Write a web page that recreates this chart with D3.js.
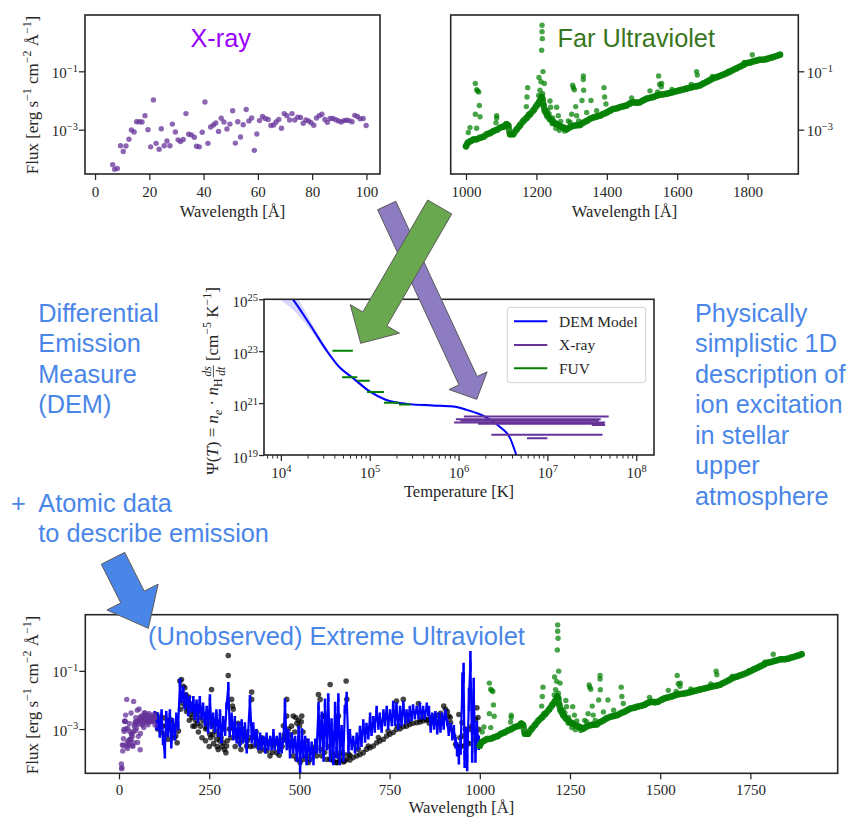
<!DOCTYPE html>
<html><head><meta charset="utf-8">
<script src="https://cdnjs.cloudflare.com/ajax/libs/d3/7.8.5/d3.min.js"></script>
<style>body{margin:0;background:#fff}svg{display:block}text{white-space:pre}</style>
</head><body><svg id="fig" width="850" height="822"></svg>
<script>
// ---------------- DATA (flux values stored as log10 of erg s^-1 cm^-2 Å^-1) ----------------
const xrayWave = [6.5,7.2,8.2,9.4,10.4,11.4,12.5,13.4,14.4,15.3,16.3,17.3,18.4,19.5,20.5,21.5,22.5,23.6,24.4,25.5,26.5,27.6,28.5,29.6,30.6,31.5,32.5,33.5,34.5,35.5,36.6,37.4,38.4,39.5,40.5,41.6,42.6,43.6,44.5,45.5,46.5,47.5,48.6,49.7,50.7,51.7,52.6,53.6,54.6,55.7,56.7,57.7,58.7,59.6,60.6,61.7,62.7,63.8,64.8,65.8,66.7,67.7,68.7,69.7,70.7,71.7,72.6,73.6,74.7,75.7,76.7,77.7,78.7,79.6,80.6,81.6,82.6,83.6,84.7,85.6,86.6,87.6,88.7,89.7,90.7,91.7,92.6,93.6,94.7,95.7,96.7,97.7,98.8,99.9];
const xrayLogFlux = [-4.20,-4.36,-4.33,-3.55,-3.75,-3.56,-3.33,-3.01,-3.08,-2.73,-2.73,-2.74,-2.52,-3.00,-3.59,-1.98,-3.47,-3.67,-2.97,-3.55,-3.39,-3.55,-2.81,-3.08,-3.35,-3.41,-3.34,-2.45,-3.16,-3.18,-3.26,-3.57,-3.59,-3.09,-2.05,-3.47,-2.91,-2.84,-2.77,-3.06,-2.61,-2.74,-2.98,-2.81,-2.35,-3.46,-2.73,-3.25,-2.83,-2.31,-2.70,-2.60,-3.71,-3.15,-2.69,-2.55,-2.62,-2.65,-2.86,-2.84,-2.74,-2.65,-2.95,-2.45,-2.52,-2.67,-2.45,-2.67,-2.57,-2.58,-2.78,-2.67,-2.70,-2.76,-2.85,-2.60,-2.52,-2.47,-2.65,-2.75,-2.62,-2.62,-2.66,-2.70,-2.74,-2.69,-2.68,-2.69,-2.73,-2.51,-2.55,-2.63,-2.62,-2.86];

// FUV continuum [wavelength, log10 flux]
const fuvContinuum = [[1000,-3.57],[1005,-3.45],[1012,-3.40],[1021,-3.34],[1030,-3.33],[1040,-3.28],[1050,-3.24],[1059,-3.16],[1068,-3.12],[1078,-3.05],[1088,-3.00],[1097,-2.93],[1106,-2.90],[1115,-2.81],[1120,-2.86],[1125,-3.16],[1134,-3.16],[1144,-2.99],[1153,-2.86],[1163,-2.70],[1172,-2.60],[1182,-2.47],[1192,-2.33],[1201,-2.17],[1208,-2.05],[1215,-1.88],[1220,-2.15],[1224,-2.35],[1231,-2.52],[1239,-2.64],[1248,-2.74],[1258,-2.81],[1267,-2.88],[1276,-2.93],[1286,-2.99],[1295,-2.92],[1305,-2.87],[1314,-2.85],[1324,-2.84],[1333,-2.76],[1343,-2.70],[1352,-2.63],[1362,-2.58],[1371,-2.55],[1381,-2.52],[1390,-2.46],[1400,-2.41],[1409,-2.35],[1418,-2.29],[1428,-2.27],[1437,-2.23],[1447,-2.20],[1456,-2.17],[1466,-2.10],[1475,-2.06],[1485,-2.08],[1494,-2.06],[1504,-1.99],[1513,-1.94],[1522,-1.91],[1532,-1.88],[1541,-1.84],[1551,-1.80],[1560,-1.79],[1570,-1.77],[1580,-1.74],[1589,-1.71],[1598,-1.68],[1608,-1.65],[1618,-1.62],[1627,-1.59],[1637,-1.56],[1646,-1.53],[1656,-1.51],[1665,-1.48],[1674,-1.42],[1684,-1.36],[1693,-1.30],[1702,-1.24],[1712,-1.20],[1721,-1.16],[1730,-1.12],[1740,-1.07],[1750,-1.01],[1759,-0.95],[1768,-0.90],[1778,-0.84],[1788,-0.78],[1797,-0.72],[1806,-0.70],[1816,-0.66],[1826,-0.63],[1835,-0.60],[1845,-0.60],[1854,-0.58],[1864,-0.54],[1873,-0.51],[1883,-0.47],[1892,-0.43]];
// FUV emission-line / scattered points [wavelength, log10 flux]
const fuvLines = [[1026.5,-1.42],[1030.3,-1.63],[1036.0,-1.71],[1033.1,-1.67],[1037.9,-2.17],[1026.5,-2.47],[1039.8,-2.56],[1030.3,-2.95],[1087.1,-2.52],[1087.1,-2.60],[1085.2,-2.76],[1175.1,-1.56],[1173.3,-1.88],[1171.4,-2.21],[1177.0,-2.47],[1215.9,0.58],[1215.9,0.36],[1216.8,0.12],[1214.9,-0.28],[1218.7,-1.01],[1207.3,-1.21],[1213.0,-1.36],[1222.5,-1.42],[1210.2,-1.65],[1217.7,-1.77],[1206.4,-1.83],[1219.6,-1.94],[1238.6,-2.02],[1240.5,-2.23],[1257.5,-2.23],[1262.2,-2.52],[1303.0,-1.48],[1304.9,-1.56],[1307.7,-1.63],[1311.5,-2.21],[1300.1,-2.47],[1333.3,-1.16],[1333.3,-1.28],[1334.2,-1.65],[1329.5,-2.00],[1355.0,-2.00],[1392.0,-1.56],[1393.8,-1.88],[1397.6,-2.12],[1547.2,-1.16],[1550.1,-1.44],[1554.8,-1.53],[1544.4,-1.71],[1655.1,-1.01],[1657.0,-1.13],[1813.3,-0.43],[1231.0,-2.35],[1246.2,-2.60],[1252.8,-2.81],[1268.9,-2.72],[1278.3,-2.91],[1290.6,-2.70],[1314.3,-2.52],[1342.7,-2.41],[1371.1,-2.35],[1470.5,-1.91],[1522.6,-1.67],[1555.7,-1.42],[1006.6,-3.10],[1011.4,-2.93],[1255,-2.95],[1265,-3.02],[1280,-3.05],[1296,-2.75],[1320,-2.70],[1236,-2.45],[1245,-2.80],[1585,-1.62],[1640,-1.45],[1700,-1.18],[1745,-1.00],[1790,-0.70]];

// EUV "observed-like" black points [wavelength, log10 flux]
const euvPoints = [[103.7,-2.50],[111.1,-2.78],[118.5,-3.12],[125.0,-2.61],[131.5,-2.89],[136.1,-3.35],[142.6,-2.67],[150.0,-3.01],[157.4,-3.24],[161.1,-3.47],[164.8,-3.07],[168.5,-1.35],[173.1,-1.30],[177.8,-1.53],[182.4,-1.58],[175.9,-1.87],[185.2,-1.81],[188.9,-1.98],[194.4,-2.10],[191.7,-2.32],[170.4,-2.32],[174.1,-2.10],[200.9,-2.21],[205.6,-2.38],[214.8,-2.50],[224.1,-2.61],[233.3,-2.72],[242.6,-2.95],[251.9,-3.18],[259.3,-2.89],[256.5,-1.64],[265.7,-3.07],[270.4,-3.35],[279.6,-3.41],[288.9,-3.47],[298.1,-3.58],[296.3,-3.81],[302.8,-0.47],[302.8,-1.16],[312.0,-1.98],[314.8,-2.21],[316.7,-2.32],[325.9,-3.29],[335.2,-3.47],[344.4,-3.35],[353.7,-3.58],[367.6,-1.73],[367.6,-1.98],[372.2,-3.58],[381.5,-3.47],[390.7,-3.75],[400.0,-3.35],[409.3,-3.75],[418.5,-3.92],[427.8,-3.58],[437.0,-3.81],[446.3,-3.69],[450.9,-3.35],[455.6,-2.89],[464.8,-1.98],[464.8,-2.55],[474.1,-3.58],[483.3,-3.92],[492.6,-4.04],[501.9,-4.15],[506.5,-2.55],[511.1,-4.04],[520.4,-3.92],[525.0,-4.15],[529.6,-4.04],[538.9,-3.81],[548.1,-3.92],[552.8,-1.81],[557.4,-1.98],[562.0,-3.92],[566.7,-2.55],[575.9,-4.04],[585.2,-4.04],[585.2,-1.47],[594.4,-3.92],[603.7,-4.15],[608.3,-2.55],[613.0,-4.04],[622.2,-3.87],[629.6,-1.35],[631.5,-1.98],
[210,-2.90],[220,-3.10],[230,-3.30],[240,-3.40],[250,-3.60],[262,-3.50],[275,-3.70],[285,-3.60],[195,-2.70],[205,-2.90],[215,-2.20],[228,-2.30],[245,-2.60],[280,-2.90],[290,-3.00],[320,-3.00],[330,-2.80],[340,-3.00],[350,-3.10],[360,-3.30],[380,-3.10],[395,-3.30],[420,-3.40],[440,-3.40],[460,-3.30],[470,-3.00],[478,-2.90],[483,-2.55],[490,-2.60],[497,-2.70],[505,-2.75],[515,-3.60],[535,-3.70],[545,-3.60],[560,-3.70],[570,-3.80],[580,-3.60],[590,-3.80],[600,-3.90],[615,-3.80],[625,-4.10],[640,-3.90],
[107,-3.00],[115,-2.60],[121,-2.90],[128,-3.20],[134,-2.70],[139,-3.00],[146,-2.80],[153,-3.30],[160,-2.90],[179,-1.90],[183,-2.20],[187,-2.40],[193,-1.90],[198,-2.50],[203,-2.60],[208,-2.40],[212,-2.70],[218,-2.80],[222,-2.40],[226,-2.90],[236,-2.50],[240,-3.00],[248,-2.80],[254,-3.30],[260,-3.20],[268,-2.80],[272,-3.60],[277,-3.20],[283,-3.30],[292,-3.70],[300,-3.40],[306,-3.00],[310,-3.30],[322,-3.60],[328,-3.20],[338,-3.70],[346,-3.20],[356,-3.40],[364,-3.60],[375,-3.30],[385,-3.60],[393,-3.50],[403,-3.70],[412,-3.50],[425,-3.80],[433,-3.50],[444,-3.90],[452,-3.60],[458,-3.20],[466,-3.40],[475,-3.20],[480,-3.40],[487,-3.10],[493,-2.80],[500,-2.90],[510,-3.10],[518,-3.40],
[594,-4.09],[603,-4.15],[612,-4.09],[622,-4.13],[631,-4.04],[640,-4.06],[649,-3.98],[659,-3.92],[668,-3.87],[677,-3.81],[686,-3.69],[696,-3.64],[705,-3.58],[714,-3.47],[723,-3.41],[733,-3.35],[742,-3.24],[751,-3.18],[760,-3.12],[769,-3.01],[779,-2.99],[788,-2.92],[797,-2.90],[806,-2.84],[815,-2.80],[825,-2.78],[834,-2.76],[843,-2.72],[853,-2.69],[769,-2.04],[788,-1.98],[830,-2.12],[608,-3.92],[636,-3.87],[663,-3.69],[691,-3.58],[719,-3.29],[746,-3.07],[774,-2.90],[802,-2.72],[557,-2.78],[566,-2.55],
[836,-2.67],[845,-2.61],[854,-2.67],[864,-2.61],[873,-2.55],[882,-2.53],[891,-2.46],[900,-2.21],[905,-2.32],[914,-2.55],[919,-2.78],[924,-3.01],[928,-3.24],[933,-3.52],[937,-3.58],[942,-3.64],[947,-3.58],[951,-3.24],[956,-3.58],[965,-3.47],[974,-3.01],[983,-3.35],[988,-2.67],[992,-2.27],[997,-3.01],[942,-2.50],[951,-2.78],
[860,-2.80],[870,-2.70],[880,-2.75],[895,-2.60],[910,-2.40],[918,-2.60],[945,-3.30],[960,-3.00],[970,-3.50],[978,-2.90],[985,-3.10],[995,-2.60]];

// EUV model spectrum [wavelength, log10 flux, error (dex)]
const euvModel = [[99,-2.50,0.12],[104,-2.89,0.15],[108,-2.55,0.12],[113,-3.12,0.18],[118,-2.44,0.12],[122,-3.35,0.2],[127,-3.81,0.2],[131,-2.50,0.12],[136,-3.12,0.15],[141,-2.44,0.12],[145,-3.47,0.2],[150,-2.78,0.15],[155,-3.24,0.15],[159,-2.55,0.12],[164,-2.89,0.15],[169,-1.41,0.15],[173,-1.98,0.12],[178,-1.64,0.12],[182,-2.21,0.12],[187,-1.87,0.12],[192,-2.44,0.12],[196,-1.98,0.12],[201,-2.32,0.12],[206,-1.98,0.12],[210,-2.55,0.12],[215,-2.10,0.12],[219,-2.67,0.12],[224,-1.98,0.12],[229,-2.55,0.12],[233,-2.21,0.12],[238,-2.78,0.12],[243,-2.32,0.12],[247,-3.01,0.15],[252,-1.92,0.12],[256,-2.89,0.12],[261,-2.55,0.12],[266,-3.01,0.12],[270,-2.44,0.12],[275,-3.12,0.15],[280,-2.44,0.12],[284,-3.35,0.15],[289,-2.67,0.12],[294,-3.12,0.12],[298,-2.21,0.12],[303,-1.53,0.15],[307,-3.12,0.15],[312,-2.55,0.12],[317,-3.24,0.15],[321,-2.67,0.12],[326,-3.35,0.15],[331,-2.89,0.12],[335,-3.47,0.15],[340,-2.78,0.12],[344,-3.35,0.15],[349,-2.89,0.12],[354,-3.69,0.15],[358,-3.12,0.12],[363,-1.98,0.15],[368,-3.35,0.15],[372,-2.89,0.12],[377,-3.47,0.15],[381,-3.12,0.12],[386,-3.58,0.15],[391,-3.24,0.12],[395,-3.58,0.15],[400,-3.35,0.12],[405,-3.69,0.15],[409,-3.24,0.12],[414,-3.58,0.15],[419,-3.35,0.12],[423,-3.58,0.15],[428,-3.12,0.12],[432,-3.58,0.15],[437,-3.35,0.12],[442,-3.69,0.15],[446,-3.24,0.12],[451,-3.69,0.15],[456,-3.35,0.12],[460,-2.10,0.15],[465,-3.58,0.15],[469,-3.12,0.12],[474,-3.81,0.2],[479,-3.24,0.12],[483,-3.69,0.15],[488,-3.35,0.12],[493,-3.92,0.2],[498,-3.01,0.12],[502,-4.26,0.25],[507,-3.12,0.15],[511,-3.81,0.2],[516,-3.35,0.12],[520,-4.04,0.2],[525,-3.47,0.15],[530,-3.92,0.2],[534,-3.58,0.15],[539,-4.04,0.2],[544,-3.47,0.15],[548,-3.69,0.15],[553,-2.21,0.15],[557,-3.69,0.15],[562,-2.55,0.15],[567,-3.92,0.2],[571,-2.10,0.15],[576,-3.58,0.15],[580,-1.92,0.15],[585,-3.92,0.2],[589,-2.78,0.15],[594,-4.04,0.2],[599,-2.21,0.15],[603,-3.81,0.2],[608,-1.92,0.15],[612,-4.04,0.2],[617,-3.01,0.15],[622,-3.92,0.2],[626,-2.32,0.15],[631,-1.87,0.15],[636,-3.69,0.15],[640,-3.12,0.12],[645,-3.58,0.15],[649,-3.35,0.12],[654,-3.69,0.15],[659,-3.24,0.12],[663,-3.58,0.15],[668,-3.01,0.12],[672,-3.47,0.15],[677,-2.78,0.12],[682,-3.35,0.12],[686,-2.90,0.12],[691,-3.24,0.12],[696,-2.55,0.12],[700,-3.12,0.12],[705,-2.67,0.12],[709,-3.01,0.12],[714,-2.32,0.12],[719,-2.90,0.12],[723,-2.55,0.12],[728,-3.01,0.12],[733,-2.44,0.12],[737,-2.78,0.12],[742,-2.32,0.12],[746,-2.90,0.12],[751,-2.44,0.12],[756,-2.78,0.12],[760,-2.15,0.12],[765,-2.78,0.12],[769,-2.21,0.12],[774,-2.90,0.12],[779,-2.32,0.12],[783,-2.78,0.12],[788,-2.15,0.12],[793,-2.72,0.12],[797,-2.44,0.12],[802,-2.67,0.12],[806,-2.32,0.12],[811,-2.61,0.12],[815,-2.27,0.12],[820,-2.55,0.12],[825,-2.32,0.12],[830,-2.55,0.12],[834,-2.21,0.12],[839,-2.55,0.12],[843,-2.32,0.12],[848,-2.55,0.12],[853,-2.21,0.12],[857,-2.44,0.12],[859,-2.32,0.12],[864,-3.01,0.12],[868,-2.55,0.12],[873,-2.90,0.12],[877,-2.50,0.12],[882,-3.07,0.12],[887,-2.55,0.12],[891,-3.01,0.12],[896,-2.55,0.12],[900,-2.90,0.12],[905,-2.44,0.12],[910,-2.78,0.12],[914,-3.12,0.12],[919,-2.90,0.12],[924,-3.24,0.15],[928,-3.01,0.15],[933,-3.47,0.2],[937,-3.69,0.25],[942,-3.92,0.3],[947,-3.58,0.3],[952,-1.41,0.35],[955,-1.07,0.35],[958,-4.04,0.3],[962,-3.24,0.3],[965,-4.15,0.3],[970,-1.98,0.4],[974,-0.67,0.35],[979,-3.81,0.35],[983,-1.64,0.4],[988,-3.81,0.35],[992,-3.01,0.3],[997,-3.47,0.25]];

// DEM model [log10 T, log10 Psi, uncertainty (dex)]
const demCurve = [[4.00,25.55,0.6],[4.135,25.0,0.4],[4.33,24.01,0.18],[4.51,23.05,0.1],[4.66,22.38,0.07],[4.81,21.97,0.06],[5.0,21.45,0.05],[5.18,21.13,0.05],[5.41,20.97,0.05],[5.71,20.91,0.05],[5.94,20.87,0.05],[6.09,20.74,0.05],[6.28,20.51,0.05],[6.46,20.1,0.05],[6.58,19.65,0.05],[6.65,19.0,0.05],[6.70,18.5,0.05]];
// FUV / X-ray constraints [log10 Tmin, log10 Tmax, log10 Psi]
const demFuv = [[4.58,4.81,23.02],[4.69,4.86,22.0],[4.86,5.0,21.86],[4.97,5.16,21.43],[5.16,5.33,21.01],[5.33,5.46,20.95]];
const demXray = [[6.06,7.69,20.48],[5.97,7.60,20.38],[6.02,7.58,20.32],[5.95,7.65,20.25],[6.22,7.64,20.20],[7.50,7.65,20.16],[6.37,7.62,19.78],[6.77,7.00,19.65]];

const xrayTicks = [0,20,40,60,80,100];
const fuvTicks = [1000,1200,1400,1600,1800];
const euvTicks = [0,250,500,750,1000,1250,1500,1750];
const fluxTicks = [1e-1,1e-3];
const tempTicks = [1e4,1e5,1e6,1e7,1e8];
const psiTicks = [1e19,1e21,1e23,1e25];
const legendLabels = ['DEM Model','X-ray','FUV'];

// ---------------- DRAWING ----------------
const svg = d3.select('#fig');
const SERIF = "'Liberation Serif','Times New Roman',serif";
const SANS = "'Liberation Sans',Arial,sans-serif";
const INK = '#262626';
const SLIDE_BLUE = '#4a86e8';
const defs = svg.append('defs');
const P = v => Math.pow(10, v);
const fluxDomain = [P(-4.52), P(0.93)];

function clip(id, b){ defs.append('clipPath').attr('id',id).append('rect').attr('x',b.x0).attr('y',b.y0).attr('width',b.x1-b.x0).attr('height',b.y1-b.y0); }
function frame(b){ svg.append('rect').attr('x',b.x0).attr('y',b.y0).attr('width',b.x1-b.x0).attr('height',b.y1-b.y0).attr('fill','none').attr('stroke',INK).attr('stroke-width',1.6); }
function styleAxis(g, fs){
  g.select('.domain').remove();
  g.selectAll('.tick line').attr('stroke',INK).attr('stroke-width',1.25);
  g.selectAll('.tick text').attr('fill',INK).attr('font-family',SERIF).attr('font-size',fs);
}
function logLabels(g, fs){
  g.selectAll('.tick text').each(function(d){
    const e = Math.round(Math.log10(d));
    const t = d3.select(this).text(null);
    t.append('tspan').text('10');
    t.append('tspan').attr('dy', (-0.42*fs).toFixed(2)).attr('font-size',(0.7*fs).toFixed(2)).text((e<0?'\u2212':'')+Math.abs(e));
  });
}
function rich(textSel, parts, fs){
  let cur = 0;
  parts.forEach(p=>{
    const off = p.sup ? -0.42*fs : (p.sub ? 0.22*fs : 0);
    const ts = textSel.append('tspan').attr('dy',(off-cur).toFixed(2)).text(p.t);
    if (p.sup||p.sub) ts.attr('font-size',(0.7*fs).toFixed(2));
    if (p.i) ts.attr('font-style','italic');
    cur = off;
  });
}
function xLabel(x, y, txt){
  svg.append('text').attr('x',x).attr('y',y).attr('text-anchor','middle').attr('font-family',SERIF).attr('font-size',16.5).attr('fill',INK).text(txt);
}
function fluxLabel(x, y){
  const t = svg.append('text').attr('transform',`translate(${x},${y}) rotate(-90)`).attr('text-anchor','middle')
    .attr('font-family',SERIF).attr('font-size',17).attr('fill',INK);
  rich(t,[{t:'Flux [erg s'},{t:'\u22121',sup:1},{t:' cm'},{t:'\u22122',sup:1},{t:' \u00C5'},{t:'\u22121',sup:1},{t:']'}],17);
}
function dots(g, data, xs, ys, r, fill, op){
  g.selectAll(null).data(data).enter().append('circle')
    .attr('cx',d=>xs(d[0])).attr('cy',d=>ys(P(d[1]))).attr('r',r).attr('fill',fill).attr('fill-opacity',op);
}
function fuvDraw(g, xs, ys){
  g.append('path').datum(fuvContinuum).attr('fill','none').attr('stroke','#0b800b').attr('stroke-width',6.5)
    .attr('stroke-opacity',0.88).attr('stroke-linejoin','round').attr('stroke-linecap','round')
    .attr('d', d3.line().x(d=>xs(d[0])).y(d=>ys(P(d[1]))));
  dots(g, fuvContinuum, xs, ys, 3.2, 'green', 0.75);
  dots(g, fuvLines, xs, ys, 2.7, 'green', 0.72);
}
function slideText(x, y, txt, color, size){
  svg.append('text').attr('x',x).attr('y',y).attr('font-family',SANS).attr('font-size',size||25.3).attr('fill',color||SLIDE_BLUE).text(txt);
}

// ---- X-ray panel ----
const bX = {x0:85, x1:380, y0:15, y1:174};
clip('cX', bX);
const xX = d3.scaleLinear().domain([-3.7,105]).range([bX.x0,bX.x1]);
const yX = d3.scaleLog().domain(fluxDomain).range([bX.y1,bX.y0]);
const gX = svg.append('g').attr('clip-path','url(#cX)');
dots(gX, xrayWave.map((w,i)=>[w,xrayLogFlux[i]]), xX, yX, 2.7, 'rebeccapurple', 0.75);
let ax = svg.append('g').attr('transform',`translate(0,${bX.y1})`).call(d3.axisBottom(xX).tickValues(xrayTicks).tickSize(6).tickPadding(6.3).tickFormat(d3.format('d')));
styleAxis(ax,15);
ax = svg.append('g').attr('transform',`translate(${bX.x0},0)`).call(d3.axisLeft(yX).tickValues(fluxTicks).tickSize(6).tickPadding(1));
styleAxis(ax,15); ax.selectAll('.tick text').attr('dy','0.4em'); logLabels(ax,15);
frame(bX);
xLabel((bX.x0+bX.x1)/2, 217, 'Wavelength [\u00C5]');
fluxLabel(38, 95);
slideText(190.5, 47, 'X-ray', '#9900ff');

// ---- FUV panel ----
const bF = {x0:450.7, x1:798.3, y0:15, y1:174};
clip('cF', bF);
const xF = d3.scaleLinear().domain([956.5,1944]).range([bF.x0,bF.x1]);
const yF = d3.scaleLog().domain(fluxDomain).range([bF.y1,bF.y0]);
const gF = svg.append('g').attr('clip-path','url(#cF)');
fuvDraw(gF, xF, yF);
ax = svg.append('g').attr('transform',`translate(0,${bF.y1})`).call(d3.axisBottom(xF).tickValues(fuvTicks).tickSize(6).tickPadding(6.3).tickFormat(d3.format('d')));
styleAxis(ax,15);
ax = svg.append('g').attr('transform',`translate(${bF.x1},0)`).call(d3.axisRight(yF).tickValues(fluxTicks).tickSize(6).tickPadding(2.5));
styleAxis(ax,15); ax.selectAll('.tick text').attr('dy','0.4em'); logLabels(ax,15);
frame(bF);
xLabel((bF.x0+bF.x1)/2, 217, 'Wavelength [\u00C5]');
slideText(557.5, 47, 'Far Ultraviolet', '#38761d');

// ---- DEM panel ----
const bD = {x0:264, x1:654, y0:299.3, y1:455};
clip('cD', bD);
const xD = d3.scaleLog().domain([P(3.81),P(8.2)]).range([bD.x0,bD.x1]);
const yD = d3.scaleLog().domain([1e19,1e25]).range([bD.y1,bD.y0]);
const gD = svg.append('g').attr('clip-path','url(#cD)');
gD.append('path').datum(demCurve).attr('fill','blue').attr('fill-opacity',0.16)
  .attr('d', d3.area().curve(d3.curveMonotoneX).x(d=>xD(P(d[0]))).y0(d=>yD(P(d[1]-d[2]))).y1(d=>yD(P(d[1]+d[2]))));
gD.append('path').datum(demCurve).attr('fill','none').attr('stroke','blue').attr('stroke-width',2)
  .attr('d', d3.line().curve(d3.curveMonotoneX).x(d=>xD(P(d[0]))).y(d=>yD(P(d[1]))));
gD.selectAll(null).data(demFuv).enter().append('line').attr('stroke','green').attr('stroke-width',2)
  .attr('x1',d=>xD(P(d[0]))).attr('x2',d=>xD(P(d[1]))).attr('y1',d=>yD(P(d[2]))).attr('y2',d=>yD(P(d[2])));
gD.selectAll(null).data(demXray).enter().append('line').attr('stroke','rebeccapurple').attr('stroke-width',2)
  .attr('x1',d=>xD(P(d[0]))).attr('x2',d=>xD(P(d[1]))).attr('y1',d=>yD(P(d[2]))).attr('y2',d=>yD(P(d[2])));
const minorT = [];
for (let e=3;e<=8;e++) for (let m=2;m<=9;m++){ const v=m*P(e); if (v>=P(3.81)&&v<=P(8.2)) minorT.push(v); }
ax = svg.append('g').attr('transform',`translate(0,${bD.y1})`).call(d3.axisBottom(xD).tickValues(minorT).tickSize(3.5).tickFormat(()=>''));
styleAxis(ax,15); ax.selectAll('.tick line').attr('stroke-width',1);
ax = svg.append('g').attr('transform',`translate(0,${bD.y1})`).call(d3.axisBottom(xD).tickValues(tempTicks).tickSize(6).tickPadding(6.3));
styleAxis(ax,15); logLabels(ax,15);
ax = svg.append('g').attr('transform',`translate(${bD.x0},0)`).call(d3.axisLeft(yD).tickValues(psiTicks).tickSize(5).tickPadding(1));
styleAxis(ax,15); ax.selectAll('.tick text').attr('dy','0.5em'); logLabels(ax,15);
frame(bD);
xLabel((bD.x0+bD.x1)/2, 497, 'Temperature [K]');
// DEM y label
(function(){
  const FS = 17;
  const gl = svg.append('g').attr('transform','translate(218,381) rotate(-90)');
  const t1 = gl.append('text').attr('font-family',SERIF).attr('font-size',FS).attr('fill',INK);
  rich(t1,[{t:'\u03A8('},{t:'T',i:1},{t:') = '},{t:'n',i:1},{t:'e',i:1,sub:1},{t:' \u00B7 '},{t:'n',i:1},{t:'H',sub:1}],FS);
  const L1 = t1.node().getComputedTextLength();
  const fr = gl.append('g').attr('font-family',SERIF).attr('font-size',FS*0.68).attr('font-style','italic').attr('fill',INK);
  fr.append('text').attr('text-anchor','middle').attr('y',-7).text('ds');
  fr.append('text').attr('text-anchor','middle').attr('y',6.5).text('dt');
  const fw = 12;
  fr.append('line').attr('x1',-fw/2).attr('x2',fw/2).attr('y1',-4.6).attr('y2',-4.6).attr('stroke',INK).attr('stroke-width',0.8);
  const t2 = gl.append('text').attr('font-family',SERIF).attr('font-size',FS).attr('fill',INK);
  rich(t2,[{t:' [cm'},{t:'\u22125',sup:1},{t:' K'},{t:'\u22121',sup:1},{t:']'}],FS);
  const L2 = t2.node().getComputedTextLength();
  const total = L1 + 1 + fw + L2;
  const s = -total/2;
  t1.attr('x', s);
  fr.attr('transform',`translate(${s+L1+1+fw/2},0)`);
  t2.attr('x', s+L1+1+fw);
})();
// legend
const lg = svg.append('g');
lg.append('rect').attr('x',507.3).attr('y',307.3).attr('width',138.4).attr('height',75.4).attr('rx',3)
  .attr('fill','white').attr('fill-opacity',0.85).attr('stroke','#d0d0d0');
const legColors = ['blue','rebeccapurple','green'];
const legY = [321.3,345,368.3];
legendLabels.forEach((lab,i)=>{
  lg.append('line').attr('x1',514).attr('x2',547.3).attr('y1',legY[i]).attr('y2',legY[i]).attr('stroke',legColors[i]).attr('stroke-width',2);
  lg.append('text').attr('x',559).attr('y',legY[i]+5.3).attr('font-family',SERIF).attr('font-size',15.5).attr('fill',INK).text(lab);
});

// ---- Bottom combined panel ----
const bB = {x0:85.3, x1:837.7, y0:614.7, y1:773.3};
clip('cB', bB);
const xB = d3.scaleLinear().domain([-93.4,1992]).range([bB.x0,bB.x1]);
const yB = d3.scaleLog().domain(fluxDomain).range([bB.y1,bB.y0]);
const gB = svg.append('g').attr('clip-path','url(#cB)');
dots(gB, euvPoints, xB, yB, 2.8, 'black', 0.72);
gB.selectAll(null).data(euvModel).enter().append('line').attr('stroke','blue').attr('stroke-width',2.6)
  .attr('x1',d=>xB(d[0])).attr('x2',d=>xB(d[0])).attr('y1',d=>yB(P(d[1]-d[2]))).attr('y2',d=>yB(P(d[1]+d[2])));
gB.append('path').datum(euvModel).attr('fill','none').attr('stroke','blue').attr('stroke-width',2.2).attr('stroke-linejoin','round')
  .attr('d', d3.line().x(d=>xB(d[0])).y(d=>yB(P(d[1]))));
dots(gB, xrayWave.map((w,i)=>[w,xrayLogFlux[i]]), xB, yB, 2.7, 'rebeccapurple', 0.75);
fuvDraw(gB, xB, yB);
ax = svg.append('g').attr('transform',`translate(0,${bB.y1})`).call(d3.axisBottom(xB).tickValues(euvTicks).tickSize(6).tickPadding(5).tickFormat(d3.format('d')));
styleAxis(ax,15);
ax = svg.append('g').attr('transform',`translate(${bB.x0},0)`).call(d3.axisLeft(yB).tickValues(fluxTicks).tickSize(6).tickPadding(1));
styleAxis(ax,15); ax.selectAll('.tick text').attr('dy','0.4em'); logLabels(ax,15);
frame(bB);
xLabel((bB.x0+bB.x1)/2, 813, 'Wavelength [\u00C5]');
fluxLabel(38, 695);
slideText(148, 645, '(Unobserved) Extreme Ultraviolet', SLIDE_BLUE, 25.5);

// ---- slide annotations ----
['Differential','Emission','Measure','(DEM)'].forEach((s,i)=>slideText(38.3, 321.7+i*30.4, s));
slideText(11, 511.7, '+');
slideText(38.3, 511.7, 'Atomic data');
slideText(38.3, 542.1, 'to describe emission');
['Physically','simplistic 1D','description of','ion excitation','in stellar','upper','atmosphere'].forEach((s,i)=>slideText(695, 321.7+i*30.55, s));

function arrowPoly(tail, tip, sw, hw, hl){
  const dx=tip[0]-tail[0], dy=tip[1]-tail[1], L=Math.hypot(dx,dy), ux=dx/L, uy=dy/L, nx=-uy, ny=ux;
  const bx=tip[0]-ux*hl, by=tip[1]-uy*hl;
  return [[tail[0]+nx*sw,tail[1]+ny*sw],[bx+nx*sw,by+ny*sw],[bx+nx*hw,by+ny*hw],tip,[bx-nx*hw,by-ny*hw],[bx-nx*sw,by-ny*sw],[tail[0]-nx*sw,tail[1]-ny*sw]];
}
function arrow(pts, fill){
  svg.append('polygon').attr('points', pts.map(p=>p.join(',')).join(' ')).attr('fill',fill).attr('stroke','#595959').attr('stroke-width',1);
}
arrow(arrowPoly([386.7,205.5],[476.7,399.3],10,21,20.5), '#8e7cc3');
arrow(arrowPoly([439.7,207],[360.7,343.3],13.9,28.4,28.2), '#6aa84f');
arrow(arrowPoly([113,558.3],[148.3,628.3],13.1,28.7,35), SLIDE_BLUE);
</script></body></html>
